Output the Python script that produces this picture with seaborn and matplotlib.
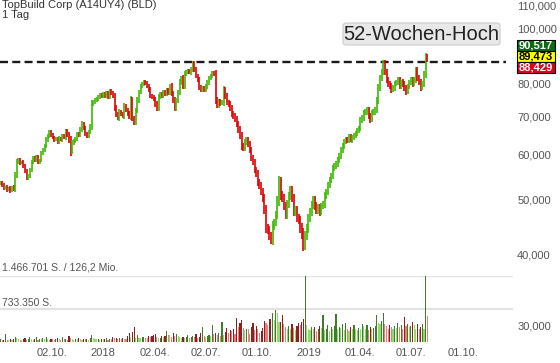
import numpy as np
import pandas as pd
import matplotlib
matplotlib.use("Agg")
import matplotlib.pyplot as plt
import matplotlib.dates as mdates
from matplotlib.patches import Rectangle, FancyBboxPatch
from matplotlib.ticker import FixedLocator, NullLocator, FuncFormatter
import seaborn as sns

#### Data (closing prices, one candle per ~2 trading days)

closes = [
    53.5, 52.9, 52.4, 52.6, 52.0, 52.4, 51.8, 52.6, 52.2, 55.3,
    58.2, 58.7, 58.0, 58.2, 57.3, 56.0, 54.6, 55.1, 56.4, 58.2,
    59.2, 58.7, 59.4, 58.2, 58.7, 60.4, 61.2, 62.2, 63.7, 64.8,
    65.8, 65.0, 64.2, 63.7, 64.0, 63.2, 64.2, 63.7, 64.8, 64.5, 66.0, 65.0,
    63.7, 60.7, 63.0, 63.5, 64.0, 65.3, 65.0, 66.5, 68.0, 66.8, 65.3,
    64.8, 65.8, 67.4, 73.7, 74.3, 74.9, 75.2, 75.9, 76.5, 76.2,
    76.8, 76.2, 77.1, 75.9, 77.7, 77.0, 76.2, 72.5, 70.8, 69.6, 71.4, 70.6,
    70.2, 73.1, 72.0, 70.8, 70.2, 74.9, 69.6, 68.5, 71.9, 74.9, 77.4,
    79.3, 80.0, 80.6, 80.2, 79.3, 78.1, 76.2, 75.8, 75.2, 73.7, 72.5, 75.9,
    76.8, 76.2, 77.4, 76.8, 78.1, 77.1, 79.3, 77.0, 74.9, 72.5, 74.9,
    77.4, 80.6, 81.9, 79.3, 83.3, 83.9, 84.3, 83.9, 85.0,
    86.9, 84.7, 82.6, 81.3, 79.0, 78.1, 78.7, 78.1, 79.3, 80.6,
    81.9, 82.6, 83.6, 83.3, 74.9, 73.4, 74.6, 74.0, 74.3, 78.1,
    76.2, 74.3, 73.7, 72.5, 70.8, 70.2, 69.3, 68.0, 66.3, 64.8,
    62.2, 61.7, 63.2, 63.7, 62.7, 61.2, 59.2, 58.2, 56.4,
    55.5, 53.7, 52.9, 51.6, 50.3, 47.9, 44.5, 44.2, 43.1,
    42.4, 44.9, 45.6, 47.1, 49.9, 53.7, 50.9, 50.3, 48.7, 47.1,
    49.1, 50.7, 52.0, 50.3, 47.5, 47.9, 46.4, 46.0, 44.5,
    43.5, 41.5, 43.1, 44.5, 46.4, 47.5, 48.9, 49.9, 48.7, 47.9,
    48.3, 47.5, 48.7, 49.1, 50.7, 51.6, 53.1, 54.2, 55.1, 56.9,
    57.3, 57.8, 58.7, 59.7, 61.2, 62.2, 63.2, 63.7, 63.5, 64.5,
    63.7, 64.2, 64.8, 65.3, 66.3, 66.8, 69.1, 69.6, 71.1,
    71.4, 71.9, 70.2, 69.1, 71.1, 71.4, 71.9, 74.9, 78.7, 81.9,
    83.9, 86.9, 83.9, 81.3, 80.0, 79.3, 78.1, 78.7, 80.0, 80.6,
    81.3, 79.3, 80.6, 80.0, 78.7, 77.4, 79.3, 80.6,
    81.3, 80.0, 81.3, 84.7, 81.9, 80.6, 78.7, 80.0, 83.3,
    89.5, 88.429,
]

# intraday range of each candle, in percent
ranges = [
    1.5, 1.2, 1.8, 1.0, 1.5, 1.2, 2.0, 1.2, 1.5, 2.5,
    2.5, 1.8, 1.5, 1.2, 1.8, 1.5, 2.0, 1.5, 1.8, 1.5,
    1.5, 1.2, 1.8, 1.5, 1.2, 1.5, 1.8, 1.5, 2.0, 1.5,
    1.8, 1.5, 1.2, 1.5, 1.2, 1.8, 1.5, 1.2, 1.8, 1.5, 2.2, 1.5,
    2.5, 3.0, 2.0, 1.5, 1.5, 1.8, 1.5, 2.0, 2.5, 1.8, 1.5,
    1.5, 1.8, 2.0, 3.0, 1.8, 1.5, 1.5, 1.8, 1.5, 1.5,
    1.8, 1.5, 2.0, 1.5, 2.0, 1.5, 2.0, 2.5, 2.2, 1.8, 2.0, 1.5,
    1.8, 2.5, 2.0, 1.8, 2.0, 3.0, 2.5, 2.0, 2.0, 2.2, 2.0,
    2.0, 1.8, 1.5, 1.5, 1.8, 2.0, 2.0, 1.5, 1.8, 2.0, 2.5, 2.5,
    1.8, 1.5, 1.8, 1.5, 1.5, 1.8, 2.0, 2.5, 2.2, 2.5, 2.0,
    2.0, 2.5, 2.0, 2.2, 2.5, 1.8, 1.5, 1.8, 2.0,
    2.2, 2.0, 2.0, 1.8, 2.2, 1.8, 1.5, 1.8, 1.5, 2.0,
    2.0, 1.8, 1.5, 2.0, 3.5, 2.5, 2.0, 2.0, 1.8, 3.0,
    2.5, 2.5, 2.0, 2.2, 2.5, 2.0, 2.2, 2.5, 2.5, 3.0,
    3.0, 2.5, 2.5, 2.2, 2.5, 2.5, 2.5, 2.2, 2.5,
    2.5, 3.0, 2.5, 3.0, 3.0, 3.5, 4.0, 3.5, 3.5,
    3.5, 4.0, 3.0, 3.0, 3.5, 4.5, 4.0, 3.0, 3.0, 3.5,
    3.5, 3.0, 3.0, 3.5, 3.5, 3.0, 3.0, 3.5, 3.5,
    4.0, 4.5, 4.0, 3.5, 3.5, 3.0, 3.0, 3.0, 3.5, 3.0,
    3.0, 3.0, 2.5, 2.5, 3.0, 2.5, 2.5, 2.5, 2.5, 2.5,
    2.5, 2.2, 2.5, 2.2, 2.5, 2.5, 2.2, 2.0, 2.2, 2.0,
    2.0, 2.2, 2.0, 2.2, 2.0, 2.0, 2.5, 2.2, 2.2,
    2.0, 2.2, 2.5, 2.5, 2.0, 2.0, 2.2, 2.5, 3.0, 2.5,
    2.5, 2.5, 2.5, 2.2, 2.5, 2.2, 2.5, 2.0, 2.2, 2.0,
    2.0, 2.2, 2.0, 2.2, 2.5, 2.2, 2.0, 2.0,
    2.0, 2.2, 2.0, 2.5, 2.5, 2.2, 2.5, 2.0, 2.2,
    3.0, 2.2,
]

# volume in thousand shares
volumes = [
    60, 45, 50, 180, 55, 40, 70, 50, 60, 120,
    90, 70, 50, 45, 60, 80, 55, 70, 110, 60,
    50, 65, 120, 55, 70, 60, 90, 75, 110, 60,
    55, 70, 60, 45, 65, 80, 65, 50, 110, 60, 70, 55,
    130, 90, 60, 55, 70, 60, 85, 65, 50, 75, 60,
    70, 55, 80, 150, 90, 70, 60, 75, 55, 65,
    60, 75, 90, 55, 70, 60, 110, 80, 100, 65, 85, 70,
    90, 70, 60, 130, 200, 110, 230, 330, 100, 150, 90,
    85, 110, 120, 100, 95, 140, 105, 130, 150, 170, 120, 90,
    100, 130, 110, 140, 240, 160, 150, 120, 190, 130, 170,
    140, 110, 95, 120, 85, 110, 150, 100, 110,
    130, 110, 180, 95, 120, 210, 330, 140, 110, 130,
    160, 140, 380, 170, 210, 150, 190, 140, 440, 160,
    230, 320, 200, 260, 250, 300, 180, 530, 330, 420,
    480, 310, 260, 300, 290, 180, 330, 420, 260,
    350, 300, 190, 240, 320, 460, 420, 380, 510,
    520, 640, 480, 720, 650, 450, 450, 600, 400, 330,
    300, 350, 280, 390, 320, 270, 360, 420, 380,
    450, 520, 1467, 380, 300, 260, 340, 290, 330, 250,
    280, 350, 310, 600, 260, 300, 380, 240, 330, 290,
    360, 620, 280, 340, 310, 390, 260, 420, 300, 250,
    330, 280, 370, 300, 260, 320, 290, 400, 350,
    300, 380, 270, 340, 290, 310, 360, 600, 420, 390,
    460, 650, 400, 350, 300, 380, 330, 290, 360, 310,
    420, 340, 380, 290, 550, 360, 410, 330,
    350, 450, 380, 300, 410, 280, 340, 390, 300,
    1467, 580,
]

first_day = "2017-07-03"
last_day = "2019-07-29"

tick_dates = ["2017-10-02", "2018-01-01", "2018-04-02", "2018-07-02", "2018-10-01",
              "2019-01-01", "2019-04-01", "2019-07-01", "2019-10-01"]
tick_labels = ["02.10.", "2018", "02.04.", "02.07.", "01.10.",
               "2019", "01.04.", "01.07.", "01.10."]

price_ticks = [30, 40, 50, 60, 70, 80, 100, 110]
high_52w = 87.3
quote_labels = ["90,517", "89,473", "88,429"]
vol_max = 1466701

#### Frame

df = pd.DataFrame({"close": closes, "range": ranges, "volume": np.array(volumes) * 1000})
df["date"] = pd.date_range(first_day, last_day, periods=len(df))
df["open"] = df["close"].shift(1).fillna(df["close"].iloc[0])
df["up"] = df["close"] >= df["open"]
df["high"] = df[["open", "close"]].max(axis=1) * (1 + df["range"] / 200)
df["low"] = df[["open", "close"]].min(axis=1) * (1 - df["range"] / 200)
df["x"] = mdates.date2num(df["date"])

#### Graphics

sns.set_theme(style="white")
plt.rcParams["font.family"] = ["Liberation Sans", "DejaVu Sans"]

W, H = 560, 363
fig = plt.figure(figsize=(W / 100, H / 100), dpi=100)
ax = fig.add_axes([0, 21 / H, 513 / W, 342 / H])
ax.set_facecolor("none")

green, red = "#3cba00", "#dd0000"
ax.vlines(df["x"], df["low"], df["high"],
          colors=np.where(df["up"], green, red), lw=1.2, zorder=3)

ax.axhline(high_52w, xmax=506 / 513, color="#1a1a1a", lw=1.7, dashes=(3.4, 1.8), zorder=2)

ax.set_yscale("log")
ax.set_ylim(28.02, 112.5)
ax.set_xlim(mdates.date2num(pd.Timestamp("2017-07-02")), mdates.date2num(pd.Timestamp("2019-12-28")))
ax.yaxis.set_major_locator(FixedLocator(price_ticks))
ax.yaxis.set_minor_locator(NullLocator())
ax.yaxis.set_major_formatter(FuncFormatter(lambda v, _: f"{v:.3f}".replace(".", ",")))
ax.yaxis.tick_right()
ax.set_xticks(mdates.date2num(pd.to_datetime(tick_dates)))
ax.set_xticklabels(tick_labels)
ax.tick_params(length=0, labelsize=8, labelcolor="#555555")
ax.tick_params(axis="x", pad=4)
ax.tick_params(axis="y", pad=3)
ax.grid(False)
for s in ax.spines.values():
    s.set_visible(False)

# volume pane
axv = fig.add_axes([0, 21 / H, 513 / W, 66 / H])
axv.set_facecolor("none")
prev = df["volume"].shift(1).fillna(0)
dark = df["volume"] >= prev
vcol = np.where(df["up"], np.where(dark, "#3f7d2a", "#8fdc6a"),
                np.where(dark, "#8c2121", "#ef7b7b"))
axv.bar(df["x"], df["volume"], width=2.0, color=vcol, linewidth=0, zorder=3)
axv.axhline(vol_max, color="#e2e2e2", lw=1.6, zorder=1)
axv.axhline(vol_max / 2, color="#e2e2e2", lw=1.6, zorder=1)
axv.set_xlim(ax.get_xlim())
axv.set_ylim(0, vol_max)
axv.set_xticks([])
axv.set_yticks([])
axv.grid(False)
for s in axv.spines.values():
    s.set_visible(False)

fig.text(2 / W, 1 - 268 / H, "1.466.701 S. / 126,2 Mio.", fontsize=7.5, color="#555555", va="center")
fig.text(2 / W, 1 - 303 / H, "733.350 S.", fontsize=7.5, color="#555555", va="center")

# header
fig.text(2 / W, 1 - 5 / H, "TopBuild Corp (A14UY4) (BLD)", fontsize=8, color="#333333", va="center")
fig.text(2 / W, 1 - 15 / H, "1 Tag", fontsize=8, color="#333333", va="center")

# 52-Wochen-Hoch badge
fig.patches.append(FancyBboxPatch((343 / W, 1 - 45 / H), 157 / W, 22 / H,
                                  boxstyle="round,pad=0,rounding_size=0.006",
                                  transform=fig.transFigure, fc="#e8e8e8", ec="#cccccc", lw=0.8))
fig.text(421 / W, 1 - 34 / H, "52-Wochen-Hoch", fontsize=14.5, color="#222222", ha="center", va="center")

# quote boxes
box_styles = [("#0b6b12", "white", 40), ("#ffff00", "black", 51), ("#e0001b", "white", 62)]
for lab, (bg, fg, top) in zip(quote_labels, box_styles):
    fig.patches.append(Rectangle((517 / W, 1 - (top + 11) / H), 38 / W, 11 / H,
                                 transform=fig.transFigure, fc=bg, ec="black", lw=0.8))
    fig.text(536 / W, 1 - (top + 5.6) / H, lab, fontsize=8, fontweight="bold", color=fg,
             ha="center", va="center")

fig.savefig("out.png", dpi=100)
